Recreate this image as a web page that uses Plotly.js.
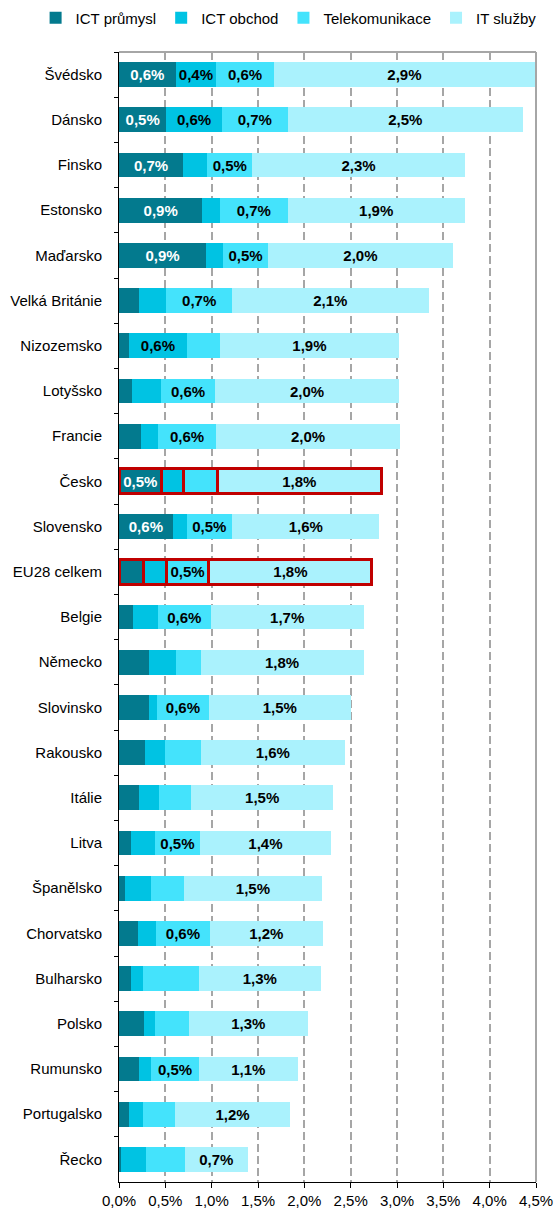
<!DOCTYPE html>
<html>
<head>
<meta charset="utf-8">
<script src="https://cdn.plot.ly/plotly-3.0.1.min.js"></script>
<style>
  html, body { margin: 0; padding: 0; background: #ffffff; }
  #chart { width: 555px; height: 1208px; }
</style>
</head>
<body>
<div id="chart"></div>
<script>
const countries = ["Švédsko","Dánsko","Finsko","Estonsko","Maďarsko","Velká Británie","Nizozemsko","Lotyšsko","Francie","Česko","Slovensko","EU28 celkem","Belgie","Německo","Slovinsko","Rakousko","Itálie","Litva","Španělsko","Chorvatsko","Bulharsko","Polsko","Rumunsko","Portugalsko","Řecko"];

const ictPrumysl = [0.61,0.51,0.69,0.90,0.94,0.22,0.11,0.14,0.24,0.46,0.58,0.26,0.15,0.32,0.32,0.28,0.22,0.13,0.07,0.21,0.13,0.27,0.22,0.11,0.02];
const ictObchod  = [0.44,0.60,0.26,0.19,0.18,0.29,0.62,0.31,0.18,0.24,0.15,0.25,0.27,0.29,0.09,0.22,0.21,0.26,0.28,0.19,0.13,0.12,0.13,0.15,0.27];
const telekom    = [0.62,0.71,0.49,0.73,0.49,0.71,0.36,0.59,0.63,0.36,0.49,0.46,0.57,0.27,0.56,0.38,0.35,0.48,0.35,0.58,0.60,0.36,0.51,0.34,0.42];
const itSluzby   = [2.82,2.54,2.29,1.91,1.99,2.12,1.93,1.98,1.98,1.77,1.59,1.76,1.65,1.76,1.53,1.56,1.53,1.42,1.49,1.22,1.32,1.29,1.07,1.25,0.68];

const lblPrumysl = ["0,6%","0,5%","0,7%","0,9%","0,9%","","","","","0,5%","0,6%","","","","","","","","","","","","","",""];
const lblObchod  = ["0,4%","0,6%","","","","","0,6%","","","","","","","","","","","","","","","","","",""];
const lblTelekom = ["0,6%","0,7%","0,5%","0,7%","0,5%","0,7%","","0,6%","0,6%","","0,5%","0,5%","0,6%","","0,6%","","","0,5%","","0,6%","","","0,5%","",""];
const lblIT      = ["2,9%","2,5%","2,3%","1,9%","2,0%","2,1%","1,9%","2,0%","2,0%","1,8%","1,6%","1,8%","1,7%","1,8%","1,5%","1,6%","1,5%","1,4%","1,5%","1,2%","1,3%","1,3%","1,1%","1,2%","0,7%"];

const seriesNames = ["ICT průmysl","ICT obchod","Telekomunikace","IT služby"];
const highlighted = ["Česko","EU28 celkem"];

const colors = ["#037A8E","#00C3E3","#44E3FC","#AAF2FD"];
const textColors = ["#ffffff","#000000","#000000","#000000"];
const values = [ictPrumysl, ictObchod, telekom, itSluzby];
const labels = [lblPrumysl, lblObchod, lblTelekom, lblIT];

const lineWidths = countries.map(c => highlighted.includes(c) ? 3 : 0);

const FONT = "Liberation Sans, Arial, Helvetica, sans-serif";

const traces = seriesNames.map((name, i) => ({
  type: "bar",
  orientation: "h",
  name: name,
  y: countries,
  x: values[i],
  text: labels[i],
  textposition: "inside",
  insidetextanchor: "middle",
  textangle: 0,
  constraintext: "none",
  cliponaxis: false,
  textfont: { family: FONT, size: 15, color: textColors[i], weight: "bold" },
  marker: { color: colors[i], line: { color: "#C00000", width: lineWidths } },
  hoverinfo: "skip"
}));

const layout = {
  width: 555,
  height: 1208,
  barmode: "stack",
  bargap: 0.45,
  separators: ",.",
  paper_bgcolor: "#ffffff",
  plot_bgcolor: "#ffffff",
  font: { family: FONT, size: 15, color: "#000000" },
  margin: { l: 119, r: 19, t: 52, b: 26, pad: 0, autoexpand: false },
  showlegend: true,
  legend: {
    orientation: "h",
    x: -0.2, xanchor: "left",
    y: 1.030, yanchor: "middle",
    font: { family: FONT, size: 15, color: "#000000" },
    traceorder: "normal",
    itemclick: false
  },
  xaxis: {
    range: [0, 4.5],
    dtick: 0.5,
    tick0: 0,
    tickformat: ".1f",
    ticksuffix: "%",
    showgrid: true,
    gridcolor: "#A6A6A6",
    gridwidth: 2,
    griddash: "8px,4px",
    zeroline: false,
    showline: true,
    linecolor: "#000000",
    linewidth: 1,
    ticks: "outside",
    ticklen: 5,
    tickcolor: "#000000",
    tickfont: { family: FONT, size: 15, color: "#000000" },
    fixedrange: true
  },
  yaxis: {
    type: "category",
    autorange: "reversed",
    tickson: "boundaries",
    ticks: "outside",
    ticklen: 4,
    tickcolor: "#000000",
    ticklabelstandoff: 13,
    showline: true,
    linecolor: "#000000",
    linewidth: 1,
    showgrid: false,
    zeroline: false,
    tickfont: { family: FONT, size: 15, color: "#000000" },
    fixedrange: true
  },
  shapes: [
    { type: "line", xref: "paper", yref: "paper", x0: 0, x1: 1, y0: 1, y1: 1, line: { color: "#A6A6A6", width: 2 } },
    { type: "line", xref: "paper", yref: "paper", x0: 1, x1: 1, y0: 0, y1: 1, line: { color: "#A6A6A6", width: 2 } }
  ],
  hovermode: false
};

Plotly.newPlot("chart", traces, layout, { displayModeBar: false, staticPlot: true });
</script>
</body>
</html>
